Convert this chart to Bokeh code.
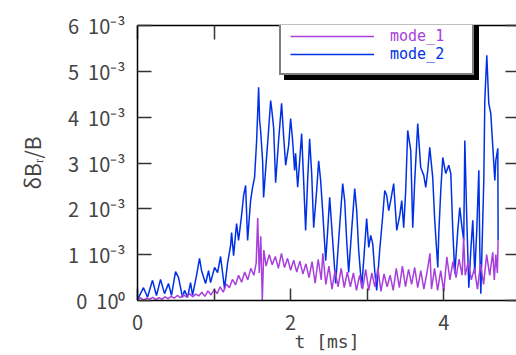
from bokeh.plotting import figure
from bokeh.models import FixedTicker, Range1d, LinearAxis, Legend, LegendItem
from bokeh.embed import file_html
from bokeh.resources import INLINE

# ---------------- data (values in units of 1e-3) ----------------
t_mode1 = [0.00, 0.04, 0.08, 0.12, 0.16, 0.20, 0.24, 0.28, 0.32, 0.36,
           0.40, 0.44, 0.48, 0.52, 0.56, 0.60, 0.64, 0.68, 0.72, 0.76,
           0.80, 0.84, 0.88, 0.92, 0.96, 1.00, 1.04, 1.08, 1.12, 1.16,
           1.20, 1.24, 1.28, 1.32, 1.36, 1.40, 1.44, 1.48, 1.52, 1.55,
           1.57, 1.59, 1.61, 1.63, 1.65, 1.68, 1.72, 1.76, 1.80, 1.84,
           1.88, 1.92, 1.96, 2.00, 2.04, 2.08, 2.12, 2.16, 2.20, 2.24,
           2.28, 2.32, 2.36, 2.40, 2.42, 2.46, 2.50, 2.54, 2.58, 2.62,
           2.66, 2.70, 2.74, 2.78, 2.82, 2.86, 2.90, 2.94, 2.98, 3.02,
           3.06, 3.10, 3.14, 3.18, 3.22, 3.26, 3.30, 3.34, 3.38, 3.42,
           3.46, 3.50, 3.54, 3.58, 3.62, 3.66, 3.70, 3.74, 3.78, 3.82,
           3.84, 3.88, 3.92, 3.96, 4.00, 4.04, 4.08, 4.12, 4.16, 4.20,
           4.24, 4.26, 4.28, 4.32, 4.36, 4.40, 4.44, 4.48, 4.52, 4.56,
           4.60, 4.64, 4.66, 4.68, 4.70, 4.71]
mode1 = [0.02, 0.06, 0.01, 0.05, 0.03, 0.07, 0.02, 0.06, 0.03, 0.08,
         0.04, 0.09, 0.05, 0.11, 0.06, 0.13, 0.07, 0.15, 0.08, 0.14,
         0.10, 0.18, 0.09, 0.21, 0.12, 0.24, 0.15, 0.30, 0.18, 0.36,
         0.28, 0.46, 0.34, 0.55, 0.40, 0.62, 0.45, 0.70, 0.55, 0.82,
         1.80, 0.60, 1.40, 0.00, 1.10, 0.75, 1.00, 0.78, 0.96, 0.70,
         1.03, 0.72, 0.92, 0.66, 0.88, 0.62, 0.86, 0.58, 0.80, 0.50,
         0.85, 0.38, 0.90, 0.45, 1.03, 0.35, 0.75, 0.25, 0.65, 0.30,
         0.70, 0.28, 0.62, 0.30, 0.60, 0.22, 0.55, 0.25, 0.68, 0.22,
         0.60, 0.30, 0.70, 0.20, 0.58, 0.30, 0.55, 0.22, 0.70, 0.28,
         0.75, 0.30, 0.68, 0.35, 0.72, 0.28, 0.65, 0.25, 0.60, 1.03,
         0.25, 0.70, 0.22, 0.65, 0.20, 0.95, 0.45, 0.85, 0.50, 0.90,
         0.55, 1.37, 0.55, 0.85, 0.45, 0.70, 0.25, 0.80, 0.35, 1.00,
         0.55, 1.05, 0.45, 1.00, 0.60, 1.31]

t_mode2 = [0.000, 0.039, 0.078, 0.131, 0.196, 0.248, 0.301, 0.353, 0.405, 0.444,
           0.497, 0.536, 0.588, 0.614, 0.654, 0.693, 0.719, 0.771, 0.810, 0.837,
           0.889, 0.928, 0.954, 1.007, 1.046, 1.085, 1.137, 1.176, 1.216, 1.229,
           1.255, 1.294, 1.320, 1.359, 1.386, 1.412, 1.438, 1.477, 1.503, 1.529,
           1.556, 1.582, 1.595, 1.608, 1.634, 1.647, 1.673, 1.712, 1.739, 1.752,
           1.778, 1.804, 1.843, 1.882, 1.908, 1.935, 1.974, 2.000, 2.026, 2.052,
           2.065, 2.092, 2.118, 2.144, 2.170, 2.196, 2.222, 2.248, 2.275, 2.301,
           2.340, 2.366, 2.392, 2.418, 2.458, 2.484, 2.510, 2.549, 2.588, 2.627,
           2.680, 2.706, 2.732, 2.758, 2.797, 2.837, 2.863, 2.889, 2.928, 2.954,
           2.993, 3.020, 3.046, 3.072, 3.098, 3.124, 3.163, 3.203, 3.229, 3.255,
           3.281, 3.307, 3.346, 3.386, 3.425, 3.451, 3.477, 3.503, 3.529, 3.569,
           3.595, 3.621, 3.660, 3.699, 3.739, 3.765, 3.791, 3.817, 3.856, 3.882,
           3.922, 3.935, 3.961, 3.987, 4.026, 4.065, 4.092, 4.118, 4.144, 4.183,
           4.209, 4.235, 4.261, 4.275, 4.301, 4.327, 4.353, 4.379, 4.405, 4.431,
           4.458, 4.471, 4.484, 4.523, 4.536, 4.562, 4.588, 4.614, 4.641, 4.667,
           4.680, 4.706, 4.710]
mode2 = [0.02, 0.15, 0.28, 0.07, 0.44, 0.11, 0.46, 0.15, 0.37, 0.11,
         0.63, 0.50, 0.07, 0.22, 0.07, 0.39, 0.11, 0.55, 0.92, 0.65,
         0.37, 0.65, 0.39, 0.72, 0.61, 0.96, 0.26, 0.81, 1.20, 1.48,
         0.98, 1.68, 1.31, 1.85, 2.29, 2.51, 1.31, 2.18, 2.47, 2.68,
         3.49, 4.65, 3.93, 3.71, 3.05, 2.25, 2.84, 3.71, 4.36, 4.19,
         3.77, 2.57, 3.49, 4.30, 3.60, 2.95, 3.38, 3.97, 3.49, 2.84,
         3.21, 2.47, 3.05, 3.64, 2.62, 1.53, 2.62, 3.53, 2.77, 1.59,
         2.40, 3.05, 2.62, 1.96, 0.87, 1.53, 2.25, 1.31, 0.37, 1.31,
         2.55, 2.18, 1.31, 0.61, 1.53, 2.44, 1.96, 1.09, 0.28, 0.87,
         1.79, 1.16, 1.42, 1.24, 0.65, 0.22, 1.09, 1.85, 2.40, 2.29,
         1.96, 2.18, 2.55, 1.53, 1.85, 2.18, 1.59, 2.40, 3.71, 3.27,
         1.59, 2.62, 3.86, 2.90, 2.73, 2.47, 2.84, 3.34, 2.68, 1.75,
         0.72, 1.46, 2.40, 3.12, 2.77, 2.95, 2.77, 1.53, 0.59, 1.53,
         2.03, 1.64, 1.31, 3.49, 1.75, 0.28, 1.09, 1.75, 0.59, 1.53,
         2.84, 1.09, 0.15, 2.62, 4.36, 5.35, 4.30, 4.08, 3.34, 2.62,
         3.05, 3.32, 1.31]

series_names = ["mode_1", "mode_2"]
series_colors = ["#a83fdc", "#0030e6"]

x_major = [0, 2, 4]
x_minor = [1, 3]
x_all = [0, 1, 2, 3, 4]
y_ticks = [0, 1, 2, 3, 4, 5, 6]
y_tick_labels = ["0\u00a0 10\u2070", "1\u00a0 10\u207b\u00b3", "2\u00a0 10\u207b\u00b3",
                 "3\u00a0 10\u207b\u00b3", "4\u00a0 10\u207b\u00b3", "5\u00a0 10\u207b\u00b3",
                 "6\u00a0 10\u207b\u00b3"]
x_label = "t [ms]"
y_label = "\u03b4B\u1d63/B"

FONT = "Noto Sans CJK JP"
MONO = "DejaVu Sans Mono"

p = figure(width=516, height=355, output_backend="svg", toolbar_location=None,
           x_range=Range1d(0, 4.95), y_range=Range1d(0, 6),
           min_border_left=137, min_border_right=0, min_border_top=25, min_border_bottom=55,
           x_axis_location=None, y_axis_location=None)
p.outline_line_color = None
p.xgrid.visible = False
p.ygrid.visible = False
p.background_fill_color = "white"
p.border_fill_color = "white"

def style_axis(ax, tick_in):
    ax.axis_line_color = "black"
    ax.axis_line_width = 1.5
    ax.major_tick_in = tick_in
    ax.major_tick_out = 0
    ax.minor_tick_in = tick_in
    ax.minor_tick_out = 0
    ax.major_tick_line_color = "#333333"
    ax.major_tick_line_width = 1.5
    ax.minor_tick_line_color = "#333333"
    ax.minor_tick_line_width = 1.5

xb = LinearAxis(ticker=FixedTicker(ticks=x_major, minor_ticks=x_minor))
style_axis(xb, 12)
xb.major_label_text_font = FONT
xb.major_label_text_font_size = "20px"
xb.major_label_standoff = 14
xb.axis_label = x_label
xb.axis_label_text_font = MONO
xb.axis_label_text_font_size = "18px"
xb.axis_label_text_font_style = "normal"
xb.axis_label_standoff = -2
p.add_layout(xb, "below")

xt = LinearAxis(ticker=FixedTicker(ticks=[], minor_ticks=x_all))
style_axis(xt, 14)
p.add_layout(xt, "above")

yl = LinearAxis(ticker=FixedTicker(ticks=y_ticks),
                major_label_overrides=dict(zip(y_ticks, y_tick_labels)))
style_axis(yl, 14)
yl.major_label_text_font = FONT
yl.major_label_text_font_size = "20px"
yl.major_label_standoff = 12
yl.axis_label = y_label
yl.axis_label_text_font = FONT
yl.axis_label_text_font_size = "21px"
yl.axis_label_text_font_style = "normal"
yl.axis_label_standoff = 18
p.add_layout(yl, "left")

yr = LinearAxis(ticker=FixedTicker(ticks=[], minor_ticks=y_ticks))
style_axis(yr, 11)
yr.axis_line_color = None
p.add_layout(yr, "right")

r2 = p.line(t_mode2, mode2, line_color=series_colors[1], line_width=1.5)
r1 = p.line(t_mode1, mode1, line_color=series_colors[0], line_width=1.5)
# invisible renderer used only to give the legend frame a (blank) row
blank = p.line([], [], line_alpha=0)

frame_kw = dict(padding=11, spacing=0, margin=0, label_height=40, glyph_height=40,
                glyph_width=84, label_standoff=16, label_width=69,
                label_text_font=MONO, label_text_font_size="15px", border_line_width=2,
                background_fill_alpha=1.0, border_line_color="black")
shadow = Legend(items=[LegendItem(label=" ", renderers=[blank])],
                location=(147, 220), background_fill_color="black", **frame_kw)
box = Legend(items=[LegendItem(label=" ", renderers=[blank])],
             location=(142, 225), background_fill_color="white", **frame_kw)

# per-series legends carry the coloured labels; an invisible border keeps the padding
row_kw = dict(padding=11, spacing=0, margin=0, label_height=30, glyph_height=30,
              glyph_width=84, label_standoff=16, label_width=69,
              label_text_font=MONO, label_text_font_size="15px", border_line_width=2,
              background_fill_alpha=0, border_line_color="white", border_line_alpha=0)
leg1 = Legend(items=[LegendItem(label=series_names[0], renderers=[r1])],
              location=(142, 238), label_text_color=series_colors[0], **row_kw)
leg2 = Legend(items=[LegendItem(label=series_names[1], renderers=[r2])],
              location=(142, 220), label_text_color=series_colors[1], **row_kw)
for lg in (shadow, box, leg1, leg2):
    p.add_layout(lg, "center")

open("out.html", "w").write(file_html(p, INLINE))
